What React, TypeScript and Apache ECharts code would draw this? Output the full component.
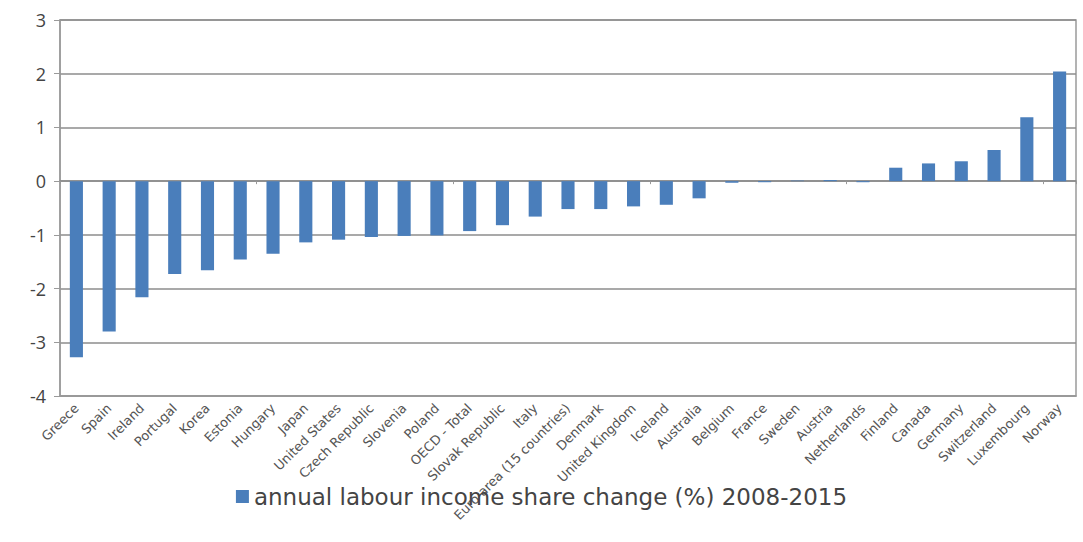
import React, { useEffect, useRef } from "react";
import * as echarts from "echarts";

const categories = [
  "Greece", "Spain", "Ireland", "Portugal", "Korea", "Estonia", "Hungary", "Japan",
  "United States", "Czech Republic", "Slovenia", "Poland", "OECD - Total", "Slovak Republic",
  "Italy", "Euro area (15 countries)", "Denmark", "United Kingdom", "Iceland", "Australia",
  "Belgium", "France", "Sweden", "Austria", "Netherlands", "Finland", "Canada", "Germany",
  "Switzerland", "Luxembourg", "Norway",
];

const values = [
  -3.28, -2.8, -2.16, -1.73, -1.66, -1.46, -1.35, -1.14, -1.09, -1.04, -1.02, -1.01,
  -0.93, -0.82, -0.66, -0.52, -0.52, -0.47, -0.44, -0.32, -0.03, -0.02, 0.01, 0.02,
  -0.02, 0.25, 0.33, 0.37, 0.58, 1.19, 2.04,
];

const seriesName = "annual labour income share change (%) 2008-2015";

export default function App() {
  const ref = useRef<HTMLDivElement>(null);
  useEffect(() => {
    if (!ref.current) return;
    const chart = echarts.init(ref.current, null, { renderer: "svg" });
    chart.setOption({
      animation: false,
      backgroundColor: "#ffffff",
      grid: {
        left: 60,
        right: 7,
        top: 20,
        bottom: 146,
        show: true,
        borderColor: "#9a9a9a",
        borderWidth: 1.5,
        containLabel: false,
      },
      legend: {
        bottom: 29,
        left: "center",
        icon: "rect",
        itemWidth: 13,
        itemHeight: 13,
        itemGap: 9,
        textStyle: { fontSize: 23, color: "#444", fontFamily: "DejaVu Sans" },
        data: [seriesName],
      },
      xAxis: [
        {
          type: "category",
          data: categories,
          axisLine: { onZero: false, lineStyle: { color: "#9a9a9a", width: 1.5 } },
          axisTick: { show: false },
          axisLabel: {
            interval: 0,
            rotate: 45,
            fontSize: 13,
            color: "#555",
            fontFamily: "DejaVu Sans",
            margin: 10,
          },
        },
        {
          type: "category",
          data: categories,
          position: "bottom",
          axisLine: { onZero: true, lineStyle: { color: "#8a8a8a", width: 1.5 } },
          axisTick: { show: true, length: 3, lineStyle: { color: "#999" } },
          axisLabel: { show: false },
        },
      ],
      yAxis: {
        type: "value",
        min: -4,
        max: 3,
        interval: 1,
        axisLine: { show: true, lineStyle: { color: "#9a9a9a", width: 1.5 } },
        axisTick: { show: true, length: 6, lineStyle: { color: "#9a9a9a" } },
        axisLabel: { fontSize: 18, color: "#444", fontFamily: "Open Sans", margin: 14 },
        splitLine: { show: true, lineStyle: { color: "#8c8c8c", width: 1.5 } },
      },
      series: [
        {
          name: seriesName,
          type: "bar",
          data: values,
          barWidth: "40%",
          itemStyle: { color: "#4a7ebb" },
        },
      ],
    });
    return () => chart.dispose();
  }, []);
  return (
    <div
      ref={ref}
      style={{ position: "fixed", left: 0, top: 0, width: 1083, height: 542 }}
    />
  );
}
